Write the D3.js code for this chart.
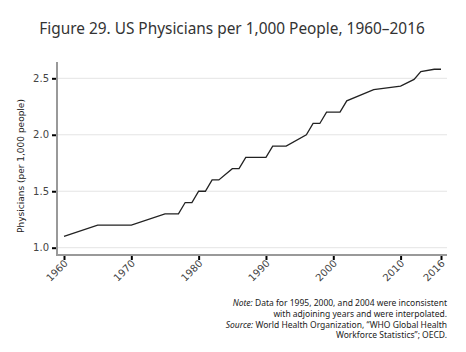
<!DOCTYPE html>
<html><head><meta charset="utf-8">
<script src="https://cdn.jsdelivr.net/npm/d3@7"></script>
<style>body{margin:0;background:#fff}svg{display:block}</style>
</head><body><svg id="c" width="466" height="352"></svg>
<script>
const years  = [1960,1965,1970,1975,1977,1978,1979,1980,1981,1982,1983,1985,1986,1987,1990,1991,1993,1996,1997,1998,1999,2001,2002,2006,2010,2012,2013,2015,2016];
const values = [1.10,1.20,1.20,1.30,1.30,1.40,1.40,1.50,1.50,1.60,1.60,1.70,1.70,1.80,1.80,1.90,1.90,2.00,2.10,2.10,2.20,2.20,2.30,2.40,2.43,2.49,2.56,2.58,2.58];
const xTicks = [1960,1970,1980,1990,2000,2010,2016];
const yTicks = [1.0,1.5,2.0,2.5];
const title = "Figure 29. US Physicians per 1,000 People, 1960\u20132016";
const yTitle = "Physicians (per 1,000 people)";

(function(){
const svg = d3.select("#c");
const x = d3.scaleLinear().domain([1960,2016]).range([64,441]);
const y = d3.scaleLinear().domain([1.0,2.5]).range([247.7,78.3]);
const pLeft = 57, pRight = 447, pBottom = 255, pTop = 62;

svg.append("text").attr("x",232).attr("y",34).attr("text-anchor","middle")
  .attr("font-family","Noto Sans").attr("font-size",15.4).attr("fill","#333").text(title);

svg.append("g").selectAll("line").data(yTicks).join("line")
  .attr("x1",pLeft).attr("x2",pRight).attr("y1",d=>y(d)).attr("y2",d=>y(d))
  .attr("stroke","#e4e4e4").attr("stroke-width",1);

const yAxis = d3.axisLeft(y).tickValues(yTicks).tickFormat(d3.format(".1f")).tickSize(5).tickPadding(3);
const gy = svg.append("g").attr("transform",`translate(${pLeft},0)`).call(yAxis);
gy.select(".domain").remove();
gy.selectAll(".tick line").attr("stroke","#000").attr("stroke-width",2);
gy.selectAll(".tick text").attr("font-family","DejaVu Sans").attr("font-size",10).attr("fill","#444");

const xAxis = d3.axisBottom(x).tickValues(xTicks).tickFormat(d3.format("d")).tickSize(5).tickPadding(2);
const gx = svg.append("g").attr("transform",`translate(0,${pBottom})`).call(xAxis);
gx.select(".domain").remove();
gx.selectAll(".tick line").attr("stroke","#000").attr("stroke-width",2);
gx.selectAll(".tick text").attr("font-family","DejaVu Sans").attr("font-size",10).attr("fill","#444")
  .attr("text-anchor","end").attr("dy",null).attr("y",null).attr("x",null)
  .attr("transform","translate(4,9) rotate(-45)");

svg.append("line").attr("x1",pLeft).attr("x2",pLeft).attr("y1",pTop).attr("y2",pBottom+1).attr("stroke","#999").attr("stroke-width",2);
svg.append("line").attr("x1",pLeft).attr("x2",pRight).attr("y1",pBottom).attr("y2",pBottom).attr("stroke","#999").attr("stroke-width",2);

const line = d3.line().x((d,i)=>x(years[i])).y(d=>y(d));
svg.append("path").datum(values).attr("d",line).attr("fill","none").attr("stroke","#222").attr("stroke-width",1.3);

svg.append("text").attr("transform","translate(24,166) rotate(-90)").attr("text-anchor","middle")
  .attr("font-family","DejaVu Sans").attr("font-size",9).attr("fill","#222").text(yTitle);

const noteLines = [
  [["Note:",true],[" Data for 1995, 2000, and 2004 were inconsistent",false]],
  [["with adjoining years and were interpolated.",false]],
  [["Source:",true],[" World Health Organization, \u201cWHO Global Health",false]],
  [["Workforce Statistics\u201d; OECD.",false]]
];
const nb = [306,317,327.5,338];
noteLines.forEach((segs,i)=>{
  const t = svg.append("text").attr("x",447).attr("y",nb[i]).attr("text-anchor","end")
    .attr("font-family","Noto Sans").attr("font-size",8.5).attr("fill","#222");
  segs.forEach(s=>t.append("tspan").attr("font-style",s[1]?"italic":null).text(s[0]));
});
})();
</script></body></html>
